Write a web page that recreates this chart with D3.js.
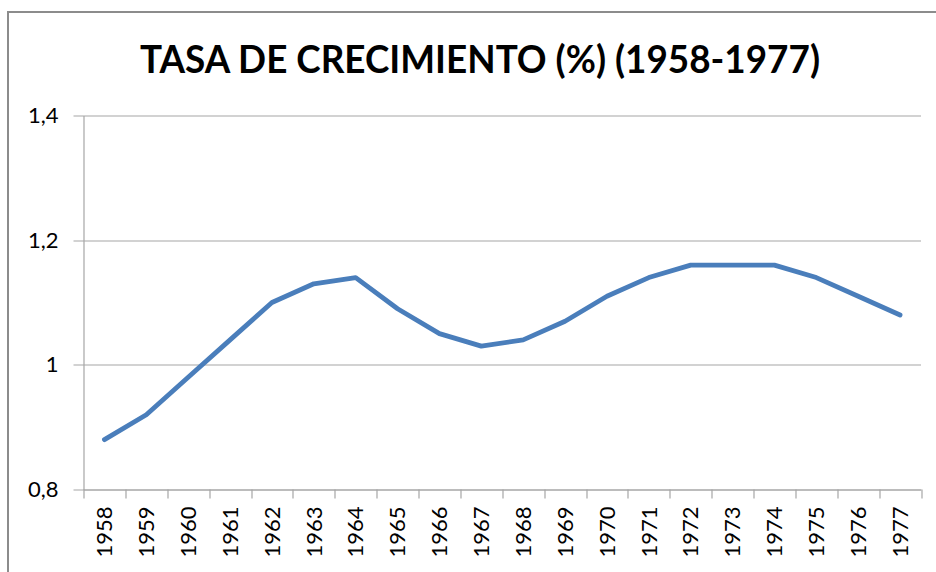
<!DOCTYPE html>
<html>
<head>
<meta charset="utf-8">
<script src="https://cdn.jsdelivr.net/npm/d3@7"></script>
<style>
  body { margin: 0; background: #fff; }
  text { font-family: Lato, "Liberation Sans", Arial, sans-serif; fill: #000; }
</style>
</head>
<body>
<div id="chart"></div>
<script>
const years = ['1958', '1959', '1960', '1961', '1962', '1963', '1964', '1965', '1966', '1967',
    '1968', '1969', '1970', '1971', '1972', '1973', '1974', '1975', '1976', '1977'];
const tasa = [0.88, 0.92, 0.98, 1.04, 1.10, 1.13, 1.14, 1.09, 1.05, 1.03,
    1.04, 1.07, 1.11, 1.14, 1.16, 1.16, 1.16, 1.14, 1.11, 1.08];
const yTicks = [0.8, 1.0, 1.2, 1.4];
const title = 'TASA DE CRECIMIENTO (%) (1958-1977)';

const W = 936, H = 572;
const margin = {top: 115.5, right: 15, bottom: 82.5, left: 83.5};
const width = W - margin.left - margin.right;
const height = H - margin.top - margin.bottom;
const font = 'Lato, "Liberation Sans", Arial, sans-serif';

const root = d3.select('#chart')
    .append('svg')
    .attr('width', W)
    .attr('height', H);

// outer chart frame (only top and left visible in the picture)
root.append('path')
    .attr('d', 'M8,' + (H + 5) + 'V12H' + (W + 5))
    .attr('fill', 'none')
    .attr('stroke', '#8c8c8c')
    .attr('stroke-width', 2);

root.append('text')
    .attr('x', 480)
    .attr('y', 73)
    .attr('text-anchor', 'middle')
    .attr('font-size', 38)
    .attr('font-weight', 'bold')
    .attr('textLength', 680)
    .attr('lengthAdjust', 'spacingAndGlyphs')
    .text(title);

const svg = root.append('g')
    .attr('transform', 'translate(' + margin.left + ',' + margin.top + ')');

const xScale = d3.scaleBand()
    .domain(years)
    .range([0, width])
    .padding(0);

const yScale = d3.scaleLinear()
    .domain([0.8, 1.4])
    .range([height, 0]);

// gridlines (extended left as tick marks)
svg.append('g')
    .attr('class', 'grid')
    .selectAll('line')
    .data(yTicks)
    .enter()
    .append('line')
    .attr('x1', -10)
    .attr('x2', width)
    .attr('y1', d => Math.round(yScale(d)) + 0.5)
    .attr('y2', d => Math.round(yScale(d)) + 0.5)
    .attr('stroke', '#a6a6a6')
    .attr('stroke-width', 1.2);

// y axis
const yAxis = svg.append('g')
    .attr('class', 'y-axis')
    .call(d3.axisLeft(yScale)
        .tickValues(yTicks)
        .tickSize(0)
        .tickPadding(25)
        .tickFormat(d => d3.format('.1f')(d).replace('.0', '').replace('.', ',')));
yAxis.select('.domain')
    .attr('stroke', '#a6a6a6')
    .attr('stroke-width', 1.2);
yAxis.selectAll('text')
    .attr('font-size', 22)
    .attr('font-family', font)
    .attr('fill', '#000');

// x axis
const xAxis = svg.append('g')
    .attr('class', 'x-axis')
    .attr('transform', 'translate(0,' + height + ')')
    .call(d3.axisBottom(xScale).tickSize(0).tickPadding(0));
xAxis.select('.domain')
    .attr('stroke', '#a6a6a6')
    .attr('stroke-width', 1.2);
xAxis.selectAll('text')
    .attr('font-size', 22)
    .attr('font-family', font)
    .attr('fill', '#000')
    .attr('text-anchor', 'end')
    .attr('transform', 'rotate(-90)')
    .attr('x', -17)
    .attr('y', 0)
    .attr('dy', '0.35em');

// tick marks between categories
const edges = years.map(d => xScale(d)).concat([xScale(years[years.length - 1]) + xScale.bandwidth()]);
xAxis.selectAll('.edge')
    .data(edges)
    .enter()
    .append('line')
    .attr('class', 'edge')
    .attr('x1', d => Math.round(d) + 0.5)
    .attr('x2', d => Math.round(d) + 0.5)
    .attr('y1', 0)
    .attr('y2', 9)
    .attr('stroke', '#a6a6a6')
    .attr('stroke-width', 1.2);

const line = d3.line()
    .x((d, i) => xScale(years[i]) + xScale.bandwidth() / 2)
    .y(d => yScale(d));

svg.append('path')
    .datum(tasa)
    .attr('fill', 'none')
    .attr('stroke', '#4a7ebb')
    .attr('stroke-width', 4.8)
    .attr('stroke-linejoin', 'round')
    .attr('stroke-linecap', 'round')
    .attr('d', line);
</script>
</body>
</html>
